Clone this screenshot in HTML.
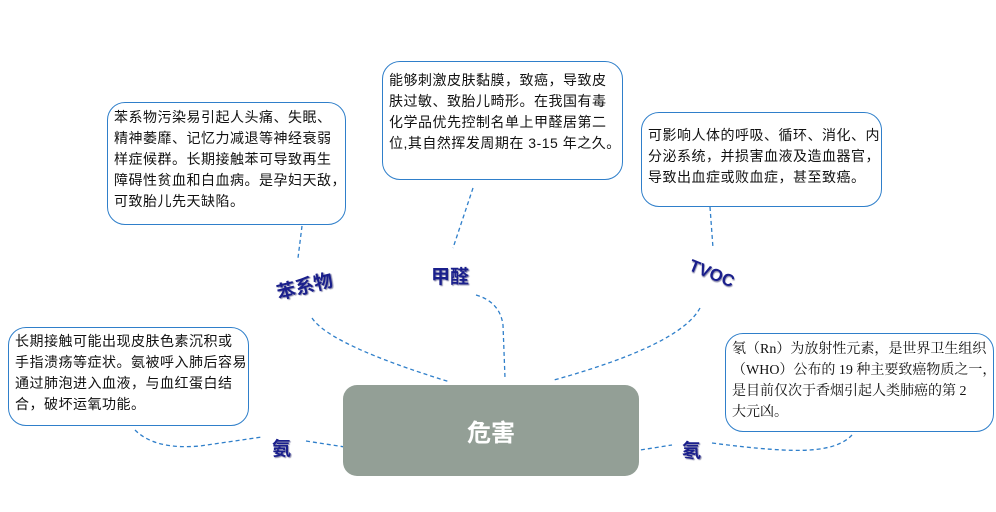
<!DOCTYPE html>
<html><head><meta charset="utf-8"><style>
body{margin:0;width:996px;height:512px;background:#fff;position:relative;overflow:hidden;font-family:"Liberation Sans","Noto Sans CJK SC",sans-serif}
.b{position:absolute;border:1.5px solid #2f7fca;border-radius:18px;background:#fff;font-size:14px;line-height:21px;color:#111;box-sizing:border-box;padding:4px 6px;white-space:nowrap;letter-spacing:0.5px;overflow:hidden}
.l{position:absolute;font-weight:bold;color:#1a1f8c;font-size:19px;text-shadow:1px 1px 1px #8888aa}
</style></head><body>
<svg width="996" height="512" style="position:absolute;left:0;top:0" fill="none" stroke="#2f7fca" stroke-width="1.3" stroke-dasharray="4,3">
<path d="M302,226 L298,258"/>
<path d="M312,318 Q330,345 450,382"/>
<path d="M473,188 L453,248"/>
<path d="M476,295 Q500,302 503,325 L505,378"/>
<path d="M710,207 L713,248"/>
<path d="M700,308 Q680,345 554,380"/>
<path d="M135,430 Q155,450 200,446 L262,437"/>
<path d="M306,441 L345,447"/>
<path d="M634,451 L672,445"/>
<path d="M712,443 Q780,452 810,450 Q840,448 852,435"/>
</svg>
<div class="b" style="left:107px;top:102px;width:239px;height:123px">苯系物污染易引起人头痛、失眠、<br>精神萎靡、记忆力减退等神经衰弱<br>样症候群。长期接触苯可导致再生<br>障碍性贫血和白血病。是孕妇天敌，<br>可致胎儿先天缺陷。</div>
<div class="b" style="left:382px;top:61px;width:241px;height:119px;padding-top:8px">能够刺激皮肤黏膜，致癌，导致皮<br>肤过敏、致胎儿畸形。在我国有毒<br>化学品优先控制名单上甲醛居第二<br>位,其自然挥发周期在 3-15 年之久。</div>
<div class="b" style="left:641px;top:112px;width:241px;height:95px;padding-top:12px">可影响人体的呼吸、循环、消化、内<br>分泌系统，并损害血液及造血器官，<br>导致出血症或败血症，甚至致癌。</div>
<div class="b" style="left:8px;top:327px;width:241px;height:99px;padding-top:3px">长期接触可能出现皮肤色素沉积或<br>手指溃疡等症状。氨被呼入肺后容易<br>通过肺泡进入血液，与血红蛋白结<br>合，破坏运氧功能。</div>
<div class="b" style="left:725px;top:333px;width:269px;height:99px;padding-top:5px;letter-spacing:0;font-family:'Liberation Serif','Noto Serif CJK SC',serif">氡（Rn）为放射性元素，是世界卫生组织<br>（WHO）公布的 19 种主要致癌物质之一，<br>是目前仅次于香烟引起人类肺癌的第 2<br>大元凶。</div>
<div style="position:absolute;left:343px;top:385px;width:296px;height:91px;background:#939f96;border-radius:14px;color:#fff;font-weight:bold;font-size:24px;display:flex;align-items:center;justify-content:center">危害</div>
<div class="l" style="left:276px;top:272px;transform:rotate(-14deg)">苯系物</div>
<div class="l" style="left:431px;top:262px">甲醛</div>
<div class="l" style="left:688px;top:264px;font-size:17px;transform:rotate(22deg)">TVOC</div>
<div class="l" style="left:272px;top:434px">氨</div>
<div class="l" style="left:682px;top:436px">氡</div>
</body></html>
